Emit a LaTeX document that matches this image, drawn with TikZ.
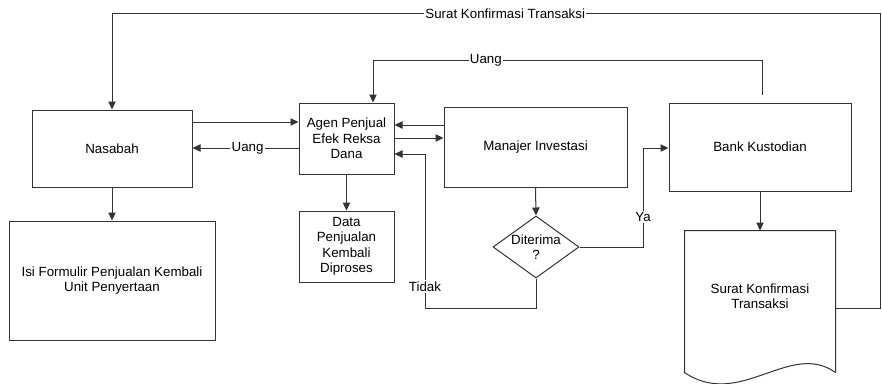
\documentclass[tikz,border=0pt]{standalone}
\usepackage{fontspec}
\setmainfont{Liberation Sans}
\usetikzlibrary{arrows.meta,shapes.geometric,calc}
\begin{document}
\begin{tikzpicture}[x=0.75pt,y=-0.75pt,
  line width=0.75pt,
  font=\fontsize{10}{11.6}\selectfont,
  every node/.style={align=center},
  box/.style={draw=black!80,rectangle,inner sep=0pt},
  flow/.style={draw=black!80,-{Triangle[length=6pt,width=5.5pt]}},
  link/.style={draw=black!80},
  lbl/.style={fill=white,inner sep=1pt}]
\useasboundingbox (0,0) rectangle (882,383);

% process boxes
\node[box,minimum width=120pt,minimum height=57.75pt] (nas) at (112,148.5) {Nasabah};
\node[box,minimum width=71.25pt,minimum height=53.25pt] (agen) at (346.5,138.5) {Agen Penjual\\Efek Reksa\\Dana};
\node[box,minimum width=137.25pt,minimum height=60pt] (mgr) at (535.5,147) {Manajer Investasi};
\node[box,minimum width=136.5pt,minimum height=66pt] (bank) at (760,147) {Bank Kustodian};
\node[box,minimum width=154.5pt,minimum height=89.25pt] (isi) at (112,280.5) {Isi Formulir Penjualan Kembali\\Unit Penyertaan};
\node[box,minimum width=71.25pt,minimum height=53.25pt] (data) at (346.5,246.5) {Data\\Penjualan\\Kembali\\Diproses};

% decision
\node[draw=black!80,diamond,inner sep=0pt,minimum width=64.5pt,minimum height=46.5pt] (dec) at (536,247) {};
\node at (dec.center) {Diterima\\?};

% document with wavy bottom edge
\node[minimum width=112.5pt,minimum height=105.75pt,inner sep=0pt] (doc) at (760,301.5) {};
\draw[black!80] (doc.south east) -- (doc.north east) -- (doc.north west) -- (doc.south west)
  .. controls (740,410) and (790,340) .. (doc.south east);
\node at (760,296) {Surat Konfirmasi\\Transaksi};

% vertical flows
\draw[flow] (nas.south) -- (isi.north);
\draw[flow] (agen.south) -- (data.north);
\draw[flow] (mgr.south) -- (dec.north);
\draw[flow] (bank.south) -- (doc.north);

% horizontal flows between boxes
\draw[flow] (nas.east |- 0,122) -- (agen.west |- 0,122);
\draw[flow] (agen.west |- 0,148) -- node[lbl,pos=0.48] {Uang} (nas.east |- 0,148);
\draw[flow] (mgr.west |- 0,125) -- (agen.east |- 0,125);
\draw[flow] (agen.east |- 0,138) -- (mgr.west |- 0,138);

% decision outcomes
\draw[flow] (dec.south) -- (536,308) -- (425,308) -- node[lbl,pos=0.14] {Tidak} (425,154) -- (agen.east |- 0,154);
\draw[flow] (dec.east) -- (643,247) -- node[lbl,pos=0.3] {Ya} (643,148) -- (bank.west |- 0,148);

% money back from the custodian bank
\coordinate (bk) at ($(bank.north)+(2,-8)$);
\draw[flow] (bk) -- (762,60) -- node[lbl,pos=0.71] {Uang} (373,60) -- (agen.north -| 373,0);

% confirmation letter back to the customer
\draw[flow] ($(doc.east)+(0,6.5)$) -- (880,308) -- (880,13.5) -- node[lbl,pos=0.488] {Surat Konfirmasi Transaksi} (112,13.5) -- (nas.north);
\end{tikzpicture}
\end{document}
